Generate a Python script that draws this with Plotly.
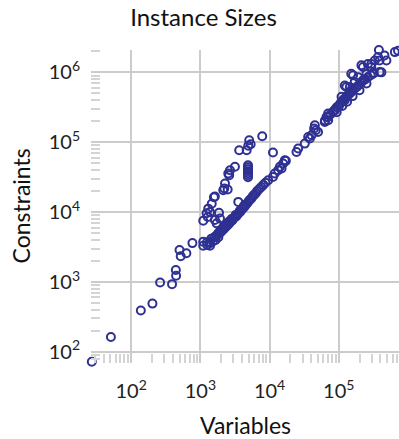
import plotly.graph_objects as go

# Instance sizes: number of variables and constraints
variables = [
    27, 51, 138, 203, 262, 390, 446, 442, 500, 520, 628, 768,
    1100, 1100, 1380, 1380, 1250,
    1100, 1230, 1300, 1460, 1570, 1280, 1380, 1620, 1720, 1860, 1920, 1820, 2040,
    2220, 2480, 2270, 2530, 2610, 2680, 3160, 3530, 3640, 4670, 5080, 5330, 4920, 7830,
    4880, 4880, 4880, 4880, 4880, 4880, 4880, 11200, 2140, 1620,
    1259, 1380, 1445, 1514, 1585, 1660, 1698, 1778, 1820, 1905, 1950, 1995, 2089, 2138,
    2188, 2291, 2344, 2399, 2512, 2570, 2630, 2754, 2818, 2884, 3020, 3162, 3236, 3311,
    3467, 3631, 3715, 3802, 3981, 4169, 4266, 4365, 4571, 4786, 5012, 5248, 5495, 5754,
    6026, 6310, 6607, 7079, 7586, 8128, 8710,
    9550, 11200, 11900, 13300, 14100, 15700, 16600, 24500, 25900, 32300, 36100, 40400,
    44000, 45100, 62800, 66500, 70200, 70200, 14900, 17200, 38200, 46600, 50100,
    63100, 70200, 93300,
    75900, 83200, 89100, 93300, 100000, 104700, 109600, 114800, 120200, 125900, 131800,
    138000, 144500, 151400, 158500, 169800, 182000, 195000, 208900, 223900, 239900,
    263000, 288400, 316200,
    112200, 131800, 158500, 199500, 251200, 87100, 109600, 122200,
    128800, 122200, 144500, 160700, 151400, 169800, 223900, 212300, 251200, 190500,
    223900, 263000, 295100, 295100, 312600, 331100, 369000, 389000, 413000, 389000,
    380000, 457000, 487500, 645700, 717800,
]
constraints = [
    72, 163, 390, 490, 980, 930, 1230, 1480, 2870, 2330, 2570, 3600,
    3770, 3300, 3600, 3300, 3700,
    7500, 9600, 11200, 13200, 16300, 8500, 10000, 7700, 6900, 9800, 8100, 5000, 5600,
    21700, 21000, 25700, 35600, 33800, 39800, 44600, 14000, 76900, 76900, 107000, 93800, 89000, 122000,
    46900, 43900, 41100, 38500, 36100, 33800, 31600, 71300, 20500, 16700,
    3390, 3720, 4170, 3800, 4365, 3980, 4570, 4786, 4365, 5012, 5495, 5248, 5495, 6026,
    5754, 6026, 6607, 6310, 6607, 7244, 6918, 7413, 7943, 7586, 8128, 8511, 9120, 8710,
    9333, 9772, 10470, 10230, 10960, 11480, 12300, 12020, 12880, 13490, 14450, 15140, 15850, 16980,
    17780, 18620, 19950, 21380, 22910, 24550, 26300,
    28600, 31900, 35700, 39800, 44400, 49700, 55300, 72600, 81300, 95500, 119000, 126000,
    157000, 175000, 195000, 230000, 257000, 206000, 42100, 54100, 113000, 148000, 140000,
    204000, 229000, 269000,
    251000, 275000, 295000, 316000, 331000, 355000, 380000, 398000, 417000, 437000, 457000,
    479000, 501000, 525000, 550000, 589000, 617000, 661000, 708000, 759000, 794000,
    851000, 912000, 977000,
    331000, 380000, 457000, 553000, 692000, 286000, 447000, 398000,
    617000, 646000, 617000, 906000, 955000, 724000, 1190000, 1259000, 955000, 851000,
    769000, 1318000, 1318000, 1191000, 955000, 1479000, 1660000, 1479000, 1000000, 1009000,
    2089000, 1750000, 1479000, 1950000, 2042000,
]

title_text = "Instance Sizes"
x_title = "Variables"
y_title = "Constraints"

marker_color = "#2e3192"
grid_color = "#cccccc"
font_family = "Lato, 'Open Sans', sans-serif"

fig = go.Figure()
fig.add_trace(go.Scatter(
    x=variables, y=constraints, mode="markers",
    marker=dict(symbol="circle-open", size=8, color=marker_color,
                line=dict(width=2, color=marker_color)),
    cliponaxis=False, hoverinfo="skip",
))

axis_common = dict(
    type="log", dtick=1, exponentformat="power", showexponent="all",
    showgrid=True, gridcolor=grid_color, gridwidth=2,
    ticks="inside", ticklen=10, tickwidth=1.5, tickcolor=grid_color,
    minor=dict(ticks="inside", ticklen=9, tickwidth=1.5, tickcolor="#d4d4d4",
               dtick="D1", showgrid=False),
    showline=False, zeroline=False,
    tickfont=dict(family=font_family, size=16, color="#222222"),
)

fig.update_layout(
    width=399, height=439,
    margin=dict(l=91, r=0, t=50, b=76),
    plot_bgcolor="white", paper_bgcolor="white",
    showlegend=False,
    font=dict(family=font_family, color="#111111"),
    title=dict(text=title_text, x=0.51, xref="container", xanchor="center",
               y=1 - 18 / 439, yref="container", yanchor="middle",
               font=dict(family=font_family, size=24, color="#111111")),
    xaxis=dict(range=[1.42, 5.87], ticklabelstandoff=14, **axis_common),
    yaxis=dict(range=[1.84, 6.32], ticklabelstandoff=10, **axis_common),
    annotations=[
        dict(text=x_title, x=0.5, xref="paper", y=0, yref="paper",
             xanchor="center", yanchor="middle", yshift=-62, showarrow=False,
             font=dict(family=font_family, size=23, color="#111111")),
        dict(text=y_title, x=0, xref="paper", y=0.5, yref="paper",
             xanchor="center", yanchor="middle", xshift=-71, textangle=-90,
             showarrow=False,
             font=dict(family=font_family, size=23, color="#111111")),
    ],
)

fig.write_html("out.html")
